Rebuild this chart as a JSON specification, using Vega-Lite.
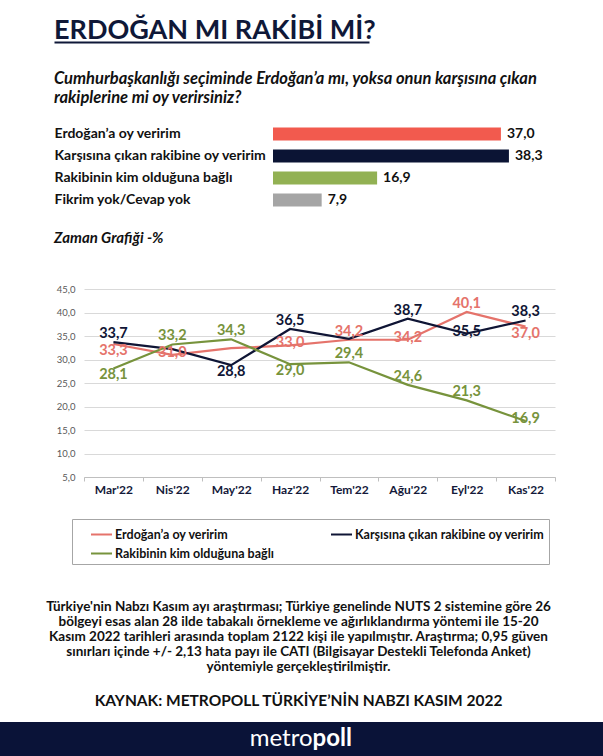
{
  "$schema": "https://vega.github.io/schema/vega-lite/v6.json",
  "padding": {"left": 0, "right": 0, "top": 17, "bottom": 0},
  "autosize": {"type": "pad"},
  "spacing": 20,
  "background": "white",
  "resolve": {"scale": {"color": "independent"}, "legend": {"color": "independent"}},
  "config": {
    "view": {"stroke": null},
    "font": "Lato",
    "locale": {"number": {"decimal": ",", "thousands": ".", "grouping": [3], "currency": ["", ""]}},
    "title": {"font": "Lato", "subtitleFont": "Lato"},
    "axis": {"labelFont": "Lato"},
    "legend": {"labelFont": "Lato"}
  },
  "datasets": {
    "baslik": [{"metin": "ERDOĞAN MI RAKİBİ Mİ?"}],
    "anket": [
      {"secenek": "Erdoğan’a oy veririm", "oran": 37.0},
      {"secenek": "Karşısına çıkan rakibine oy veririm", "oran": 38.3},
      {"secenek": "Rakibinin kim olduğuna bağlı", "oran": 16.9},
      {"secenek": "Fikrim yok/Cevap yok", "oran": 7.9}
    ],
    "zaman": [
      {"ay": "Mar'22", "seri": "Erdoğan’a oy veririm", "oran": 33.3, "konum": "alt"},
      {"ay": "Nis'22", "seri": "Erdoğan’a oy veririm", "oran": 31.0, "konum": "orta"},
      {"ay": "May'22", "seri": "Erdoğan’a oy veririm", "oran": 32.4, "konum": null},
      {"ay": "Haz'22", "seri": "Erdoğan’a oy veririm", "oran": 33.0, "konum": "orta"},
      {"ay": "Tem'22", "seri": "Erdoğan’a oy veririm", "oran": 34.2, "konum": "üst"},
      {"ay": "Ağu'22", "seri": "Erdoğan’a oy veririm", "oran": 34.2, "konum": "orta"},
      {"ay": "Eyl'22", "seri": "Erdoğan’a oy veririm", "oran": 40.1, "konum": "üst"},
      {"ay": "Kas'22", "seri": "Erdoğan’a oy veririm", "oran": 37.0, "konum": "alt"},
      {"ay": "Mar'22", "seri": "Karşısına çıkan rakibine oy veririm", "oran": 33.7, "konum": "üst"},
      {"ay": "Nis'22", "seri": "Karşısına çıkan rakibine oy veririm", "oran": 32.2, "konum": null},
      {"ay": "May'22", "seri": "Karşısına çıkan rakibine oy veririm", "oran": 28.8, "konum": "alt"},
      {"ay": "Haz'22", "seri": "Karşısına çıkan rakibine oy veririm", "oran": 36.5, "konum": "üst"},
      {"ay": "Tem'22", "seri": "Karşısına çıkan rakibine oy veririm", "oran": 34.4, "konum": null},
      {"ay": "Ağu'22", "seri": "Karşısına çıkan rakibine oy veririm", "oran": 38.7, "konum": "üst"},
      {"ay": "Eyl'22", "seri": "Karşısına çıkan rakibine oy veririm", "oran": 35.5, "konum": "orta"},
      {"ay": "Kas'22", "seri": "Karşısına çıkan rakibine oy veririm", "oran": 38.3, "konum": "üst"},
      {"ay": "Mar'22", "seri": "Rakibinin kim olduğuna bağlı", "oran": 28.1, "konum": "alt"},
      {"ay": "Nis'22", "seri": "Rakibinin kim olduğuna bağlı", "oran": 33.2, "konum": "üst"},
      {"ay": "May'22", "seri": "Rakibinin kim olduğuna bağlı", "oran": 34.3, "konum": "üst"},
      {"ay": "Haz'22", "seri": "Rakibinin kim olduğuna bağlı", "oran": 29.0, "konum": "alt"},
      {"ay": "Tem'22", "seri": "Rakibinin kim olduğuna bağlı", "oran": 29.4, "konum": "üst"},
      {"ay": "Ağu'22", "seri": "Rakibinin kim olduğuna bağlı", "oran": 24.6, "konum": "üst"},
      {"ay": "Eyl'22", "seri": "Rakibinin kim olduğuna bağlı", "oran": 21.3, "konum": "üst"},
      {"ay": "Kas'22", "seri": "Rakibinin kim olduğuna bağlı", "oran": 16.9, "konum": "orta"}
    ],
    "marka": [{"a": "metro", "b": "poll"}]
  },
  "vconcat": [
    {
      "width": 603,
      "height": 22,
      "data": {"name": "baslik"},
      "mark": {"type": "text", "align": "left", "baseline": "alphabetic", "fontSize": 27, "fontWeight": "bold", "color": "#0F1838"},
      "encoding": {
        "text": {"field": "metin"},
        "x": {
          "datum": 0,
          "type": "quantitative",
          "scale": {"domain": [0, 1], "range": [54, 369], "nice": false, "zero": false},
          "axis": {"orient": "top", "offset": -14, "domainColor": "#0F1838", "domainWidth": 2, "labels": false, "ticks": false, "grid": false, "title": null}
        }
      }
    },
    {
      "width": 603,
      "height": 88,
      "title": {
        "text": ["Cumhurbaşkanlığı seçiminde Erdoğan’a mı, yoksa onun karşısına çıkan", "rakiplerine mi oy verirsiniz?"],
        "anchor": "start",
        "frame": "group",
        "dx": 54,
        "fontSize": 16.5,
        "fontStyle": "italic",
        "fontWeight": "bold",
        "color": "#111111",
        "lineHeight": 19,
        "offset": 17
      },
      "data": {"name": "anket"},
      "encoding": {
        "y": {
          "field": "secenek",
          "type": "nominal",
          "sort": null,
          "scale": {"paddingInner": 0.41, "paddingOuter": 0.205},
          "axis": {"title": null, "orient": "left", "offset": -54, "labelAlign": "left", "labelPadding": 0, "ticks": false, "tickSize": 0, "domain": false, "labelFontSize": 14, "labelFontWeight": "bold", "labelColor": "#111111", "labelLimit": 400}
        },
        "x": {"field": "oran", "type": "quantitative", "scale": {"domain": [0, 40], "range": [273, 519.4], "nice": false}, "axis": null}
      },
      "layer": [
        {
          "mark": {"type": "bar"},
          "encoding": {
            "color": {
              "field": "secenek",
              "type": "nominal",
              "scale": {"domain": ["Erdoğan’a oy veririm", "Karşısına çıkan rakibine oy veririm", "Rakibinin kim olduğuna bağlı", "Fikrim yok/Cevap yok"], "range": ["#F25A4E", "#0B1434", "#92B153", "#A5A5A5"]},
              "legend": null
            }
          }
        },
        {
          "mark": {"type": "text", "align": "left", "baseline": "middle", "dx": 6, "fontSize": 14, "fontWeight": "bold", "color": "#111111"},
          "encoding": {"text": {"field": "oran", "type": "quantitative", "format": ".1f"}}
        }
      ]
    },
    {
      "width": 603,
      "height": 188,
      "title": {
        "text": "Zaman Grafiği -%",
        "anchor": "start",
        "frame": "group",
        "dx": 54,
        "fontSize": 15,
        "fontStyle": "italic",
        "fontWeight": "bold",
        "color": "#111111",
        "offset": 38
      },
      "data": {"name": "zaman"},
      "encoding": {
        "x": {
          "field": "ay",
          "type": "nominal",
          "sort": null,
          "scale": {"range": [84, 555], "paddingInner": 0, "paddingOuter": 0},
          "axis": {"title": null, "labelAngle": 0, "labelFontWeight": "bold", "labelFontSize": 12, "labelColor": "#14193A", "labelPadding": 3, "domainColor": "#BFBFBF", "tickColor": "#BFBFBF", "tickSize": 4, "tickBand": "extent", "grid": false}
        },
        "y": {
          "field": "oran",
          "type": "quantitative",
          "scale": {"domain": [5, 45], "nice": false, "zero": false},
          "axis": {"title": null, "values": [5, 10, 15, 20, 25, 30, 35, 40, 45], "format": ".1f", "offset": -84, "labelPadding": 9, "labelFontSize": 9.5, "labelColor": "#595959", "ticks": false, "tickSize": 0, "domain": false, "grid": true, "gridColor": "#D9D9D9"}
        },
        "color": {
          "field": "seri",
          "type": "nominal",
          "scale": {"domain": ["Erdoğan’a oy veririm", "Karşısına çıkan rakibine oy veririm", "Rakibinin kim olduğuna bağlı"], "range": ["#E5736B", "#0F1535", "#77933C"]},
          "legend": {
            "title": null,
            "orient": "none",
            "legendX": 72,
            "legendY": 230,
            "columns": 2,
            "direction": "horizontal",
            "symbolType": "stroke",
            "symbolSize": 441,
            "symbolStrokeWidth": 2,
            "symbolOffset": 14,
            "labelOffset": 2,
            "labelFontSize": 12.5,
            "labelFontWeight": "bold",
            "labelColor": "#111111",
            "labelLimit": 400,
            "columnPadding": 42,
            "rowPadding": 1,
            "padding": 4,
            "strokeColor": "#A6A6A6"
          }
        }
      },
      "layer": [
        {"mark": {"type": "line", "strokeWidth": 2.2}},
        {
          "transform": [{"filter": "datum.konum === 'üst'"}],
          "mark": {"type": "text", "baseline": "middle", "dy": -8, "fontSize": 14.5, "fontWeight": "bold"},
          "encoding": {"text": {"field": "oran", "type": "quantitative", "format": ".1f"}}
        },
        {
          "transform": [{"filter": "datum.konum === 'alt'"}],
          "mark": {"type": "text", "baseline": "middle", "dy": 7, "fontSize": 14.5, "fontWeight": "bold"},
          "encoding": {"text": {"field": "oran", "type": "quantitative", "format": ".1f"}}
        },
        {
          "transform": [{"filter": "datum.konum === 'orta'"}],
          "mark": {"type": "text", "baseline": "middle", "dy": -2, "fontSize": 14.5, "fontWeight": "bold"},
          "encoding": {"text": {"field": "oran", "type": "quantitative", "format": ".1f"}}
        }
      ]
    },
    {
      "width": 603,
      "height": 34,
      "view": {"fill": "#0A1338", "stroke": null},
      "title": {
        "text": ["", "Türkiye'nin Nabzı Kasım ayı araştırması; Türkiye genelinde NUTS 2 sistemine göre 26", "bölgeyi esas alan 28 ilde tabakalı örnekleme ve ağırlıklandırma yöntemi ile 15-20", "Kasım 2022 tarihleri arasında toplam 2122 kişi ile yapılmıştır. Araştırma; 0,95 güven", "sınırları içinde +/- 2,13 hata payı ile CATI (Bilgisayar Destekli Telefonda Anket)", "yöntemiyle gerçekleştirilmiştir."],
        "subtitle": "KAYNAK: METROPOLL TÜRKİYE’NİN NABZI KASIM 2022",
        "anchor": "middle",
        "frame": "group",
        "dx": -3,
        "fontSize": 13.5,
        "fontWeight": "bold",
        "color": "#111111",
        "lineHeight": 15,
        "subtitleFontSize": 15.5,
        "subtitleFontWeight": "bold",
        "subtitleColor": "#111111",
        "subtitlePadding": 20,
        "offset": 13
      },
      "data": {"name": "marka"},
      "layer": [
        {
          "mark": {"type": "text", "align": "right", "baseline": "middle", "dx": 11, "fontSize": 24, "fontWeight": "normal", "color": "#FFFFFF"},
          "encoding": {"text": {"field": "a"}}
        },
        {
          "mark": {"type": "text", "align": "left", "baseline": "middle", "dx": 11, "fontSize": 24, "fontWeight": "bold", "color": "#FFFFFF"},
          "encoding": {"text": {"field": "b"}}
        }
      ]
    }
  ]
}
